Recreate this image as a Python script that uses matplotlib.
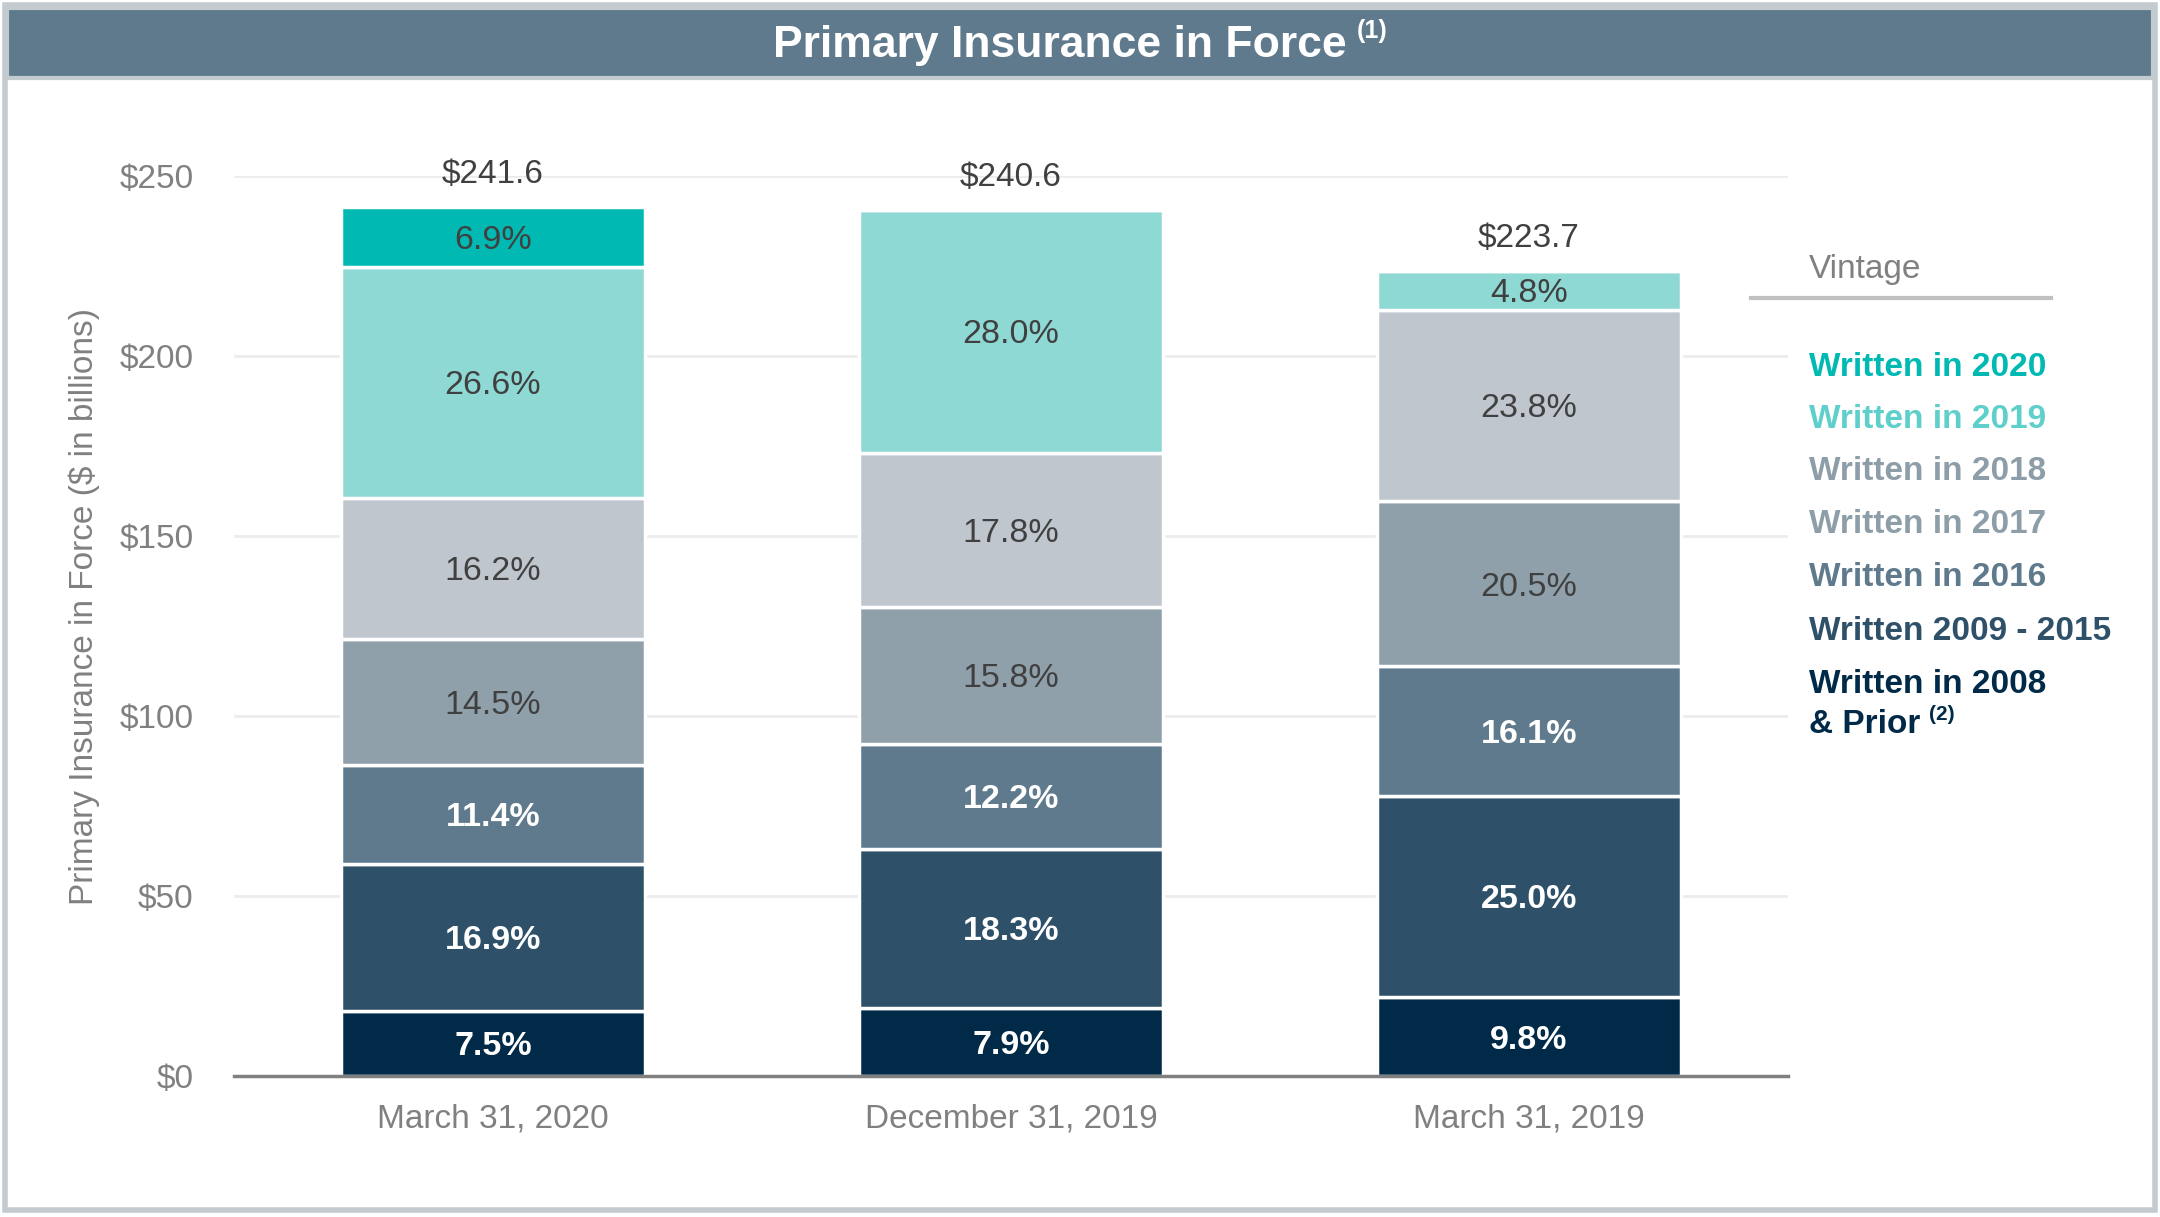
import numpy as np
import matplotlib
matplotlib.use("Agg")
import matplotlib.pyplot as plt
from matplotlib.patches import Rectangle
from matplotlib.lines import Line2D

plt.rcParams['font.family'] = ['Liberation Sans', 'DejaVu Sans']

periods = ["March 31, 2020", "December 31, 2019", "March 31, 2019"]
totals = [241.6, 240.6, 223.7]

# share of each vintage in each period (%), bottom to top
vintages = ["Written in 2008 & Prior", "Written 2009 - 2015", "Written in 2016",
            "Written in 2017", "Written in 2018", "Written in 2019", "Written in 2020"]
pct_2008_prior = [7.5, 7.9, 9.8]
pct_2009_2015 = [16.9, 18.3, 25.0]
pct_2016 = [11.4, 12.2, 16.1]
pct_2017 = [14.5, 15.8, 20.5]
pct_2018 = [16.2, 17.8, 23.8]
pct_2019 = [26.6, 28.0, 4.8]
pct_2020 = [6.9, 0.0, 0.0]

yticks = [0, 50, 100, 150, 200, 250]
ytick_labels = ["$0", "$50", "$100", "$150", "$200", "$250"]

pcts = [pct_2008_prior, pct_2009_2015, pct_2016, pct_2017, pct_2018, pct_2019, pct_2020]
bar_colors = ["#002a48", "#2e5069", "#5f7a8c", "#8fa0ab", "#bfc6cd", "#8fd9d5", "#00b9b3"]
legend_colors = ["#002a48", "#2e5069", "#5f7a8c", "#8d9ea9", "#8d9ea9", "#5ecfca", "#00b9b3"]
label_white = [True, True, True, False, False, False, False]

W, H = 2160, 1217
fig = plt.figure(figsize=(W / 100, H / 100), dpi=100)


def fx(px):
    return px / W


def fy(py):
    return 1 - py / H


# outer frame and title band
fig.patches.append(Rectangle((fx(5), fy(1210)), fx(2150), 1205 / H, transform=fig.transFigure,
                             facecolor="white", edgecolor="#c3cbd0", linewidth=4, zorder=0))
fig.patches.append(Rectangle((fx(7), fy(78)), fx(2146), 70 / H, transform=fig.transFigure,
                             facecolor="#5f7a8c", edgecolor="#c3cbd0", linewidth=3, zorder=1))

ax = fig.add_axes([fx(234), fy(1076), fx(1788 - 234), (1076 - 176.3) / H])
ax.set_zorder(2)

x = np.arange(len(periods))
bottom = np.zeros(len(periods))
for p, col, white in zip(pcts, bar_colors, label_white):
    vals = np.array(p) / 100 * np.array(totals)
    ax.bar(x, vals, 0.585, bottom=bottom, color=col, edgecolor="white", linewidth=2.5, zorder=3)
    for i in range(len(periods)):
        if p[i] > 0:
            ax.text(x[i], bottom[i] + vals[i] / 2, f"{p[i]:.1f}%", ha="center", va="center_baseline",
                    fontsize=24.5, color="white" if white else "#404040",
                    fontweight="bold" if white else "normal", zorder=4)
    bottom += vals

for i, t in enumerate(totals):
    ax.annotate(f"${t:.1f}", (x[i], bottom[i]), xytext=(0, 12), textcoords="offset points",
                ha="center", va="bottom", fontsize=24, color="#404040")

ax.set_xlim(-0.5, 2.5)
ax.set_ylim(0, 250)
ax.set_yticks(yticks)
ax.set_yticklabels(ytick_labels)
ax.set_xticks(x)
ax.set_xticklabels(periods)
ax.grid(axis="y", color="#ececec", linewidth=2, zorder=0)
ax.set_axisbelow(True)
for s in ["top", "right", "left"]:
    ax.spines[s].set_visible(False)
ax.spines["bottom"].set_color("#808080")
ax.spines["bottom"].set_linewidth(2.5)
ax.spines["bottom"].set_zorder(5)
ax.tick_params(axis="y", length=0, pad=29, labelsize=24, labelcolor="#808080")
ax.tick_params(axis="x", length=0, pad=20, labelsize=24, labelcolor="#808080")
ax.set_ylabel("Primary Insurance in Force ($ in billions)", fontsize=24, color="#808080")
ax.yaxis.set_label_coords(fx(100 - 234) / fx(1788 - 234), 0.522)

# title with superscript
renderer = fig.canvas.get_renderer()
title = fig.text(0.5, fy(41), "Primary Insurance in Force", ha="center", va="center_baseline",
                 fontsize=32, fontweight="bold", color="white", zorder=5)
title_sup = fig.text(0, fy(31), "(1)", ha="left", va="center", fontsize=18,
                     fontweight="bold", color="white", zorder=5)
bb = title.get_window_extent(renderer)
sb = title_sup.get_window_extent(renderer)
shift = (sb.width + 10) / 2
title.set_x((W / 2 - shift) / W)
title_sup.set_x((bb.x1 - shift + 10) / W)

# legend
fig.text(fx(1809), fy(266), "Vintage", ha="left", va="center_baseline", fontsize=24, color="#808080")
fig.lines.append(Line2D([fx(1751), fx(2051)], [fy(298), fy(298)], transform=fig.transFigure,
                        color="#c0c0c0", linewidth=3))
leg_y = [364, 416, 468, 521, 574, 628, 681]
for k in range(len(vintages)):
    idx = len(vintages) - 1 - k
    yy = leg_y[k]
    fig.patches.append(Rectangle((fx(1755), fy(yy - 1)), fx(14), 14 / H, transform=fig.transFigure,
                                 facecolor=legend_colors[idx], edgecolor="none"))
    name = vintages[idx]
    if "Prior" in name:
        fig.text(fx(1809), fy(yy), "Written in 2008", ha="left", va="center_baseline", fontsize=24,
                 fontweight="bold", color=legend_colors[idx])
        prior = fig.text(fx(1809), fy(yy + 40), "& Prior", ha="left", va="center_baseline", fontsize=24,
                         fontweight="bold", color=legend_colors[idx])
        pb = prior.get_window_extent(renderer)
        fig.text(pb.x1 / W + fx(9), fy(yy + 34), "(2)", ha="left", va="center", fontsize=15,
                 fontweight="bold", color=legend_colors[idx])
    else:
        fig.text(fx(1809), fy(yy), name, ha="left", va="center_baseline", fontsize=24,
                 fontweight="bold", color=legend_colors[idx])

fig.savefig("out.png", dpi=100)
